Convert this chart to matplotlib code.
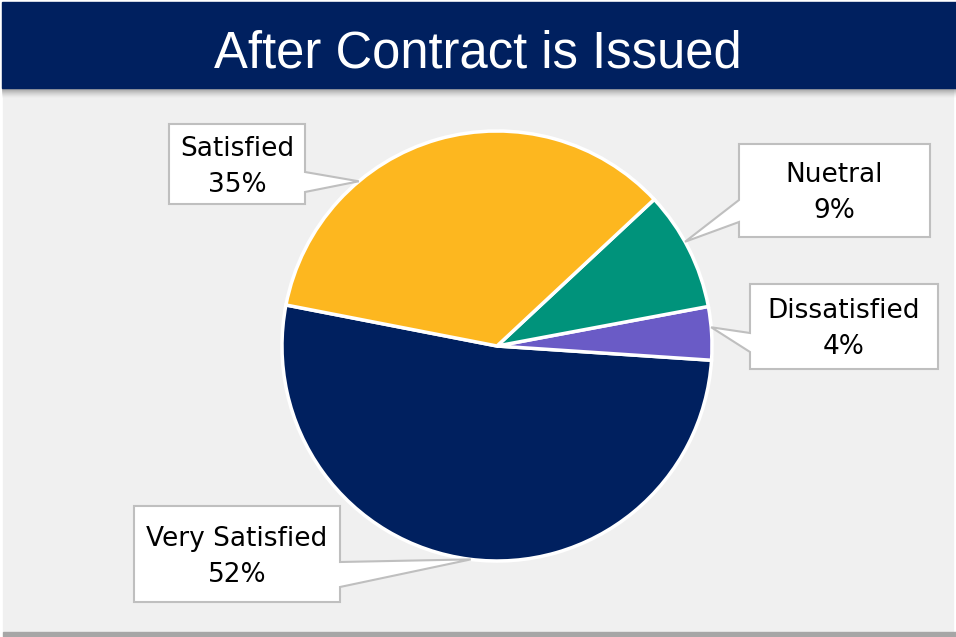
import matplotlib
matplotlib.use('Agg')
import matplotlib.pyplot as plt
from matplotlib.patches import Rectangle, Polygon
import numpy as np

# data
labels = ['Very Satisfied', 'Dissatisfied', 'Nuetral', 'Satisfied']
values = [52, 4, 9, 35]
colors = ['#00205F', '#6A5BC6', '#00937B', '#FDB71F']
title = 'After Contract is Issued'

W, H = 956, 637
fig = plt.figure(figsize=(W / 100, H / 100), dpi=100)
ax = fig.add_axes([0, 0, 1, 1])
ax.set_xlim(0, W)
ax.set_ylim(0, H)
ax.set_aspect('equal')
ax.axis('off')


def py(y):
    # pixel row (from top) -> data y
    return H - y


# background panel and banner
ax.add_patch(Rectangle((0, 0), W, H, color='#FFFFFF', zorder=0))
ax.add_patch(Rectangle((3, py(632)), W - 6, 632 - 88, color='#F0F0F0', zorder=0))
ax.add_patch(Rectangle((3, py(637)), W - 3, 5, color='#A6A6A6', zorder=0))
for i in range(10):
    ax.add_patch(Rectangle((2, py(89 + i)), W, 1, color='#606060',
                           alpha=0.6 * (1 - i / 10) ** 1.5, lw=0, zorder=1))
ax.add_patch(Rectangle((2, py(88)), W, 86, color='#00205F', zorder=2))
ax.text(478, py(67), title, color='white', fontsize=36.5,
        family=['Liberation Sans', 'DejaVu Sans'],
        ha='center', va='baseline', zorder=3)

# pie
cx, cy, r = 497, py(346), 215
start = 169
wedges, _ = ax.pie(values, colors=colors, startangle=start, counterclock=True,
                   center=(cx, cy), radius=r, frame=True,
                   wedgeprops=dict(edgecolor='white', linewidth=2.5))
ax.set_xlim(0, W)
ax.set_ylim(0, H)
ax.axis('off')
for w in wedges:
    w.set_zorder(4)

# callouts: box (x0, y0top, x1, y1bottom), anchor angle on the rim, pointer base
callouts = {
    'Satisfied': ((169, 124, 305, 204), 130, 'right', (172, 192)),
    'Nuetral': ((739, 144, 930, 237), 29, 'left', (200, 222)),
    'Dissatisfied': ((750, 284, 938, 369), 5, 'left', (333, 352)),
    'Very Satisfied': ((134, 506, 340, 602), 263, 'right', (562, 587)),
}

for lab, val in zip(labels, values):
    (x0, y0, x1, y1), ang, side, (b0, b1) = callouts[lab]
    a = np.radians(ang)
    tip = (cx + r * np.cos(a), cy + r * np.sin(a))
    pts = [(x0, py(y0)), (x1, py(y0))]
    if side == 'right':
        pts += [(x1, py(b0)), tip, (x1, py(b1)), (x1, py(y1)), (x0, py(y1))]
    else:
        pts += [(x1, py(y1)), (x0, py(y1)), (x0, py(b1)), tip, (x0, py(b0))]
    ax.add_patch(Polygon(pts, closed=True, facecolor='white',
                         edgecolor='#BFBFBF', lw=1.5, zorder=5))
    ax.text((x0 + x1) / 2, py((y0 + y1) / 2 + 3), '%s\n%d%%' % (lab, val),
            ha='center', va='center', fontsize=19, linespacing=1.5,
            color='black', zorder=6)

plt.savefig('out.png', dpi=100)
